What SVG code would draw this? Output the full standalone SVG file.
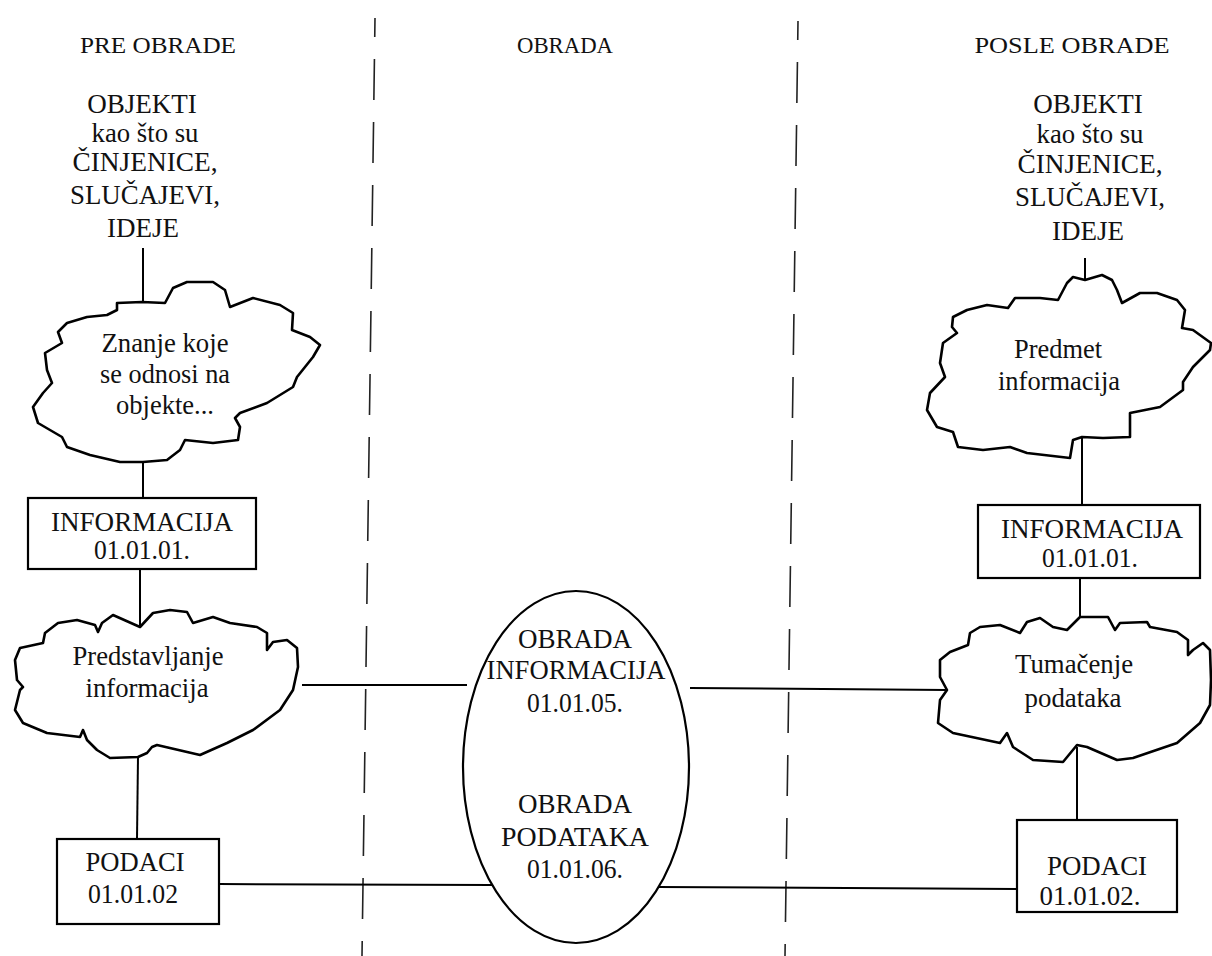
<svg xmlns="http://www.w3.org/2000/svg" width="1212" height="956" viewBox="0 0 1212 956">
<style>
.lbl{font-family:'Liberation Serif','Times New Roman',serif;font-size:24px;fill:#111;text-anchor:middle}
.hdr{font-family:'Liberation Serif','Times New Roman',serif;font-size:24px;fill:#111;text-anchor:middle}
.cloud{fill:#fff;stroke:#000;stroke-width:2.6;stroke-linejoin:round}
.box{fill:#fff;stroke:#000;stroke-width:2.2}
.ln{stroke:#000;stroke-width:2;fill:none}
.dash{stroke:#222;stroke-width:1.6;fill:none;stroke-dasharray:41 22;stroke-dashoffset:22}
</style>
<rect width="1212" height="956" fill="#fff"/>
<g id="dividers">
<line class="dash" x1="375" y1="18" x2="362" y2="956"/>
<line class="dash" x1="798" y1="21" x2="785" y2="956"/>
</g>
<g id="headers">
<text class="hdr" x="158" y="53" textLength="156" lengthAdjust="spacingAndGlyphs">PRE OBRADE</text>
<text class="hdr" x="565" y="53" textLength="96" lengthAdjust="spacingAndGlyphs">OBRADA</text>
<text class="hdr" x="1072" y="53" textLength="195" lengthAdjust="spacingAndGlyphs">POSLE OBRADE</text>
</g>
<g id="connectors">
<line class="ln" x1="143" y1="248" x2="143" y2="302"/>
<line class="ln" x1="143" y1="462" x2="143" y2="498"/>
<line class="ln" x1="140" y1="569" x2="140" y2="627"/>
<line class="ln" x1="138" y1="757" x2="137" y2="839"/>
<line class="ln" x1="302" y1="685" x2="467" y2="685"/>
<line class="ln" x1="219" y1="884" x2="492" y2="885"/>
<line class="ln" x1="690" y1="688" x2="947" y2="690"/>
<line class="ln" x1="657" y1="887" x2="1017" y2="889"/>
<line class="ln" x1="1085" y1="258" x2="1085" y2="280"/>
<line class="ln" x1="1082" y1="437" x2="1082" y2="505"/>
<line class="ln" x1="1080" y1="578" x2="1080" y2="617"/>
<line class="ln" x1="1077" y1="747" x2="1077" y2="820"/>
</g>
<g id="objekti-left">
<text class="lbl" transform="translate(142 113) scale(1.12)" textLength="98" lengthAdjust="spacingAndGlyphs">OBJEKTI</text>
<text class="lbl" transform="translate(145 142) scale(1.12)" textLength="95.5" lengthAdjust="spacingAndGlyphs">kao što su</text>
<text class="lbl" transform="translate(145 171) scale(1.12)" textLength="129.5" lengthAdjust="spacingAndGlyphs">ČINJENICE,</text>
<text class="lbl" transform="translate(145 204) scale(1.12)" textLength="134" lengthAdjust="spacingAndGlyphs">SLUČAJEVI,</text>
<text class="lbl" transform="translate(143 237) scale(1.12)" textLength="64.3" lengthAdjust="spacingAndGlyphs">IDEJE</text>
</g>
<g id="objekti-right">
<text class="lbl" transform="translate(1088 113) scale(1.12)" textLength="98" lengthAdjust="spacingAndGlyphs">OBJEKTI</text>
<text class="lbl" transform="translate(1090 143) scale(1.12)" textLength="95.5" lengthAdjust="spacingAndGlyphs">kao što su</text>
<text class="lbl" transform="translate(1090 173) scale(1.12)" textLength="129.5" lengthAdjust="spacingAndGlyphs">ČINJENICE,</text>
<text class="lbl" transform="translate(1090 206) scale(1.12)" textLength="134" lengthAdjust="spacingAndGlyphs">SLUČAJEVI,</text>
<text class="lbl" transform="translate(1088 240) scale(1.12)" textLength="64.3" lengthAdjust="spacingAndGlyphs">IDEJE</text>
</g>
<g id="cloud-znanje">
<polygon class="cloud" points="117,303 142,302 165,303 173,288 187,282 213,282 225,290 230,307 253,298 280,305 293,313 292,330 310,337 320,345 313,357 297,377 293,387 267,403 240,413 235,418 240,427 238,440 213,443 185,440 180,450 167,460 143,462 120,462 90,455 67,447 62,437 38,423 33,407 43,393 52,383 47,370 45,353 62,343 58,332 67,323 87,317 107,315 117,310"/>
<text class="lbl" transform="translate(165 352) scale(1.12)" textLength="113.4" lengthAdjust="spacingAndGlyphs">Znanje koje</text>
<text class="lbl" transform="translate(165 383) scale(1.12)" textLength="116" lengthAdjust="spacingAndGlyphs">se odnosi na</text>
<text class="lbl" transform="translate(165 414) scale(1.12)" textLength="87.5" lengthAdjust="spacingAndGlyphs">objekte...</text>
</g>
<g id="info-left">
<rect class="box" x="28" y="498" width="228" height="71"/>
<text class="lbl" transform="translate(142 531) scale(1.12)" textLength="162.5" lengthAdjust="spacingAndGlyphs">INFORMACIJA</text>
<text class="lbl" transform="translate(142 559) scale(1.12)" textLength="85.7" lengthAdjust="spacingAndGlyphs">01.01.01.</text>
</g>
<g id="cloud-predstavljanje">
<polygon class="cloud" points="20,648 43,643 45,633 58,623 77,620 95,625 98,632 102,623 113,615 140,627 153,613 170,610 187,612 193,623 213,617 230,623 257,627 267,633 267,650 273,642 287,640 297,648 298,667 293,690 280,710 253,730 227,743 200,755 157,745 152,747 147,753 138,757 110,758 97,750 87,740 83,730 80,737 47,733 23,723 15,710 20,690 23,687 17,680 15,660"/>
<text class="lbl" transform="translate(148 665) scale(1.12)" textLength="134.8" lengthAdjust="spacingAndGlyphs">Predstavljanje</text>
<text class="lbl" transform="translate(147 697) scale(1.12)" textLength="109.8" lengthAdjust="spacingAndGlyphs">informacija</text>
</g>
<g id="podaci-left">
<rect class="box" x="57" y="839" width="162" height="85"/>
<text class="lbl" transform="translate(135 871) scale(1.12)" textLength="88.4" lengthAdjust="spacingAndGlyphs">PODACI</text>
<text class="lbl" transform="translate(133 903) scale(1.12)" textLength="80.4" lengthAdjust="spacingAndGlyphs">01.01.02</text>
</g>
<g id="obrada-ellipse">
<ellipse class="box" cx="576" cy="767" rx="113" ry="176"/>
<text class="lbl" transform="translate(575 648) scale(1.12)" textLength="101.8" lengthAdjust="spacingAndGlyphs">OBRADA</text>
<text class="lbl" transform="translate(576 679) scale(1.12)" textLength="159.8" lengthAdjust="spacingAndGlyphs">INFORMACIJA</text>
<text class="lbl" transform="translate(575 712) scale(1.12)" textLength="85.7" lengthAdjust="spacingAndGlyphs">01.01.05.</text>
<text class="lbl" transform="translate(575 813) scale(1.12)" textLength="101.8" lengthAdjust="spacingAndGlyphs">OBRADA</text>
<text class="lbl" transform="translate(575 846) scale(1.12)" textLength="132.1" lengthAdjust="spacingAndGlyphs">PODATAKA</text>
<text class="lbl" transform="translate(575 878) scale(1.12)" textLength="85.7" lengthAdjust="spacingAndGlyphs">01.01.06.</text>
</g>
<g id="cloud-predmet">
<polygon class="cloud" points="1085,280 1073,277 1067,283 1058,300 1040,298 1015,298 1008,308 987,305 967,310 953,317 952,327 957,333 943,343 940,363 945,377 930,393 927,410 937,427 953,432 958,447 983,450 1010,447 1027,453 1070,458 1073,440 1082,437 1103,438 1130,437 1130,413 1160,407 1183,390 1183,382 1193,367 1210,350 1211,343 1193,330 1182,328 1185,310 1177,300 1157,293 1140,293 1122,303 1117,290 1112,280 1102,275"/>
<text class="lbl" transform="translate(1058 358) scale(1.12)" textLength="78.6" lengthAdjust="spacingAndGlyphs">Predmet</text>
<text class="lbl" transform="translate(1059 390) scale(1.12)" textLength="109" lengthAdjust="spacingAndGlyphs">informacija</text>
</g>
<g id="info-right">
<rect class="box" x="978" y="505" width="222" height="73"/>
<text class="lbl" transform="translate(1092 538) scale(1.12)" textLength="162.5" lengthAdjust="spacingAndGlyphs">INFORMACIJA</text>
<text class="lbl" transform="translate(1090 567) scale(1.12)" textLength="85.7" lengthAdjust="spacingAndGlyphs">01.01.01.</text>
</g>
<g id="cloud-tumacenje">
<polygon class="cloud" points="1080,617 1067,630 1053,627 1040,618 1027,622 1020,633 1000,625 980,627 970,633 968,645 950,652 940,660 940,677 947,690 940,700 938,723 953,733 1000,743 1007,733 1013,747 1033,760 1063,762 1077,745 1087,747 1117,760 1133,758 1177,743 1200,723 1210,705 1211,680 1210,650 1203,643 1193,650 1188,655 1188,640 1177,632 1150,627 1147,622 1120,623 1115,630 1108,617"/>
<text class="lbl" transform="translate(1074 673) scale(1.12)" textLength="105.4" lengthAdjust="spacingAndGlyphs">Tumačenje</text>
<text class="lbl" transform="translate(1073 707) scale(1.12)" textLength="86.6" lengthAdjust="spacingAndGlyphs">podataka</text>
</g>
<g id="podaci-right">
<rect class="box" x="1017" y="820" width="160" height="92"/>
<text class="lbl" transform="translate(1097 875) scale(1.12)" textLength="89.3" lengthAdjust="spacingAndGlyphs">PODACI</text>
<text class="lbl" transform="translate(1090 905) scale(1.12)" textLength="90.2" lengthAdjust="spacingAndGlyphs">01.01.02.</text>
</g>
</svg>
